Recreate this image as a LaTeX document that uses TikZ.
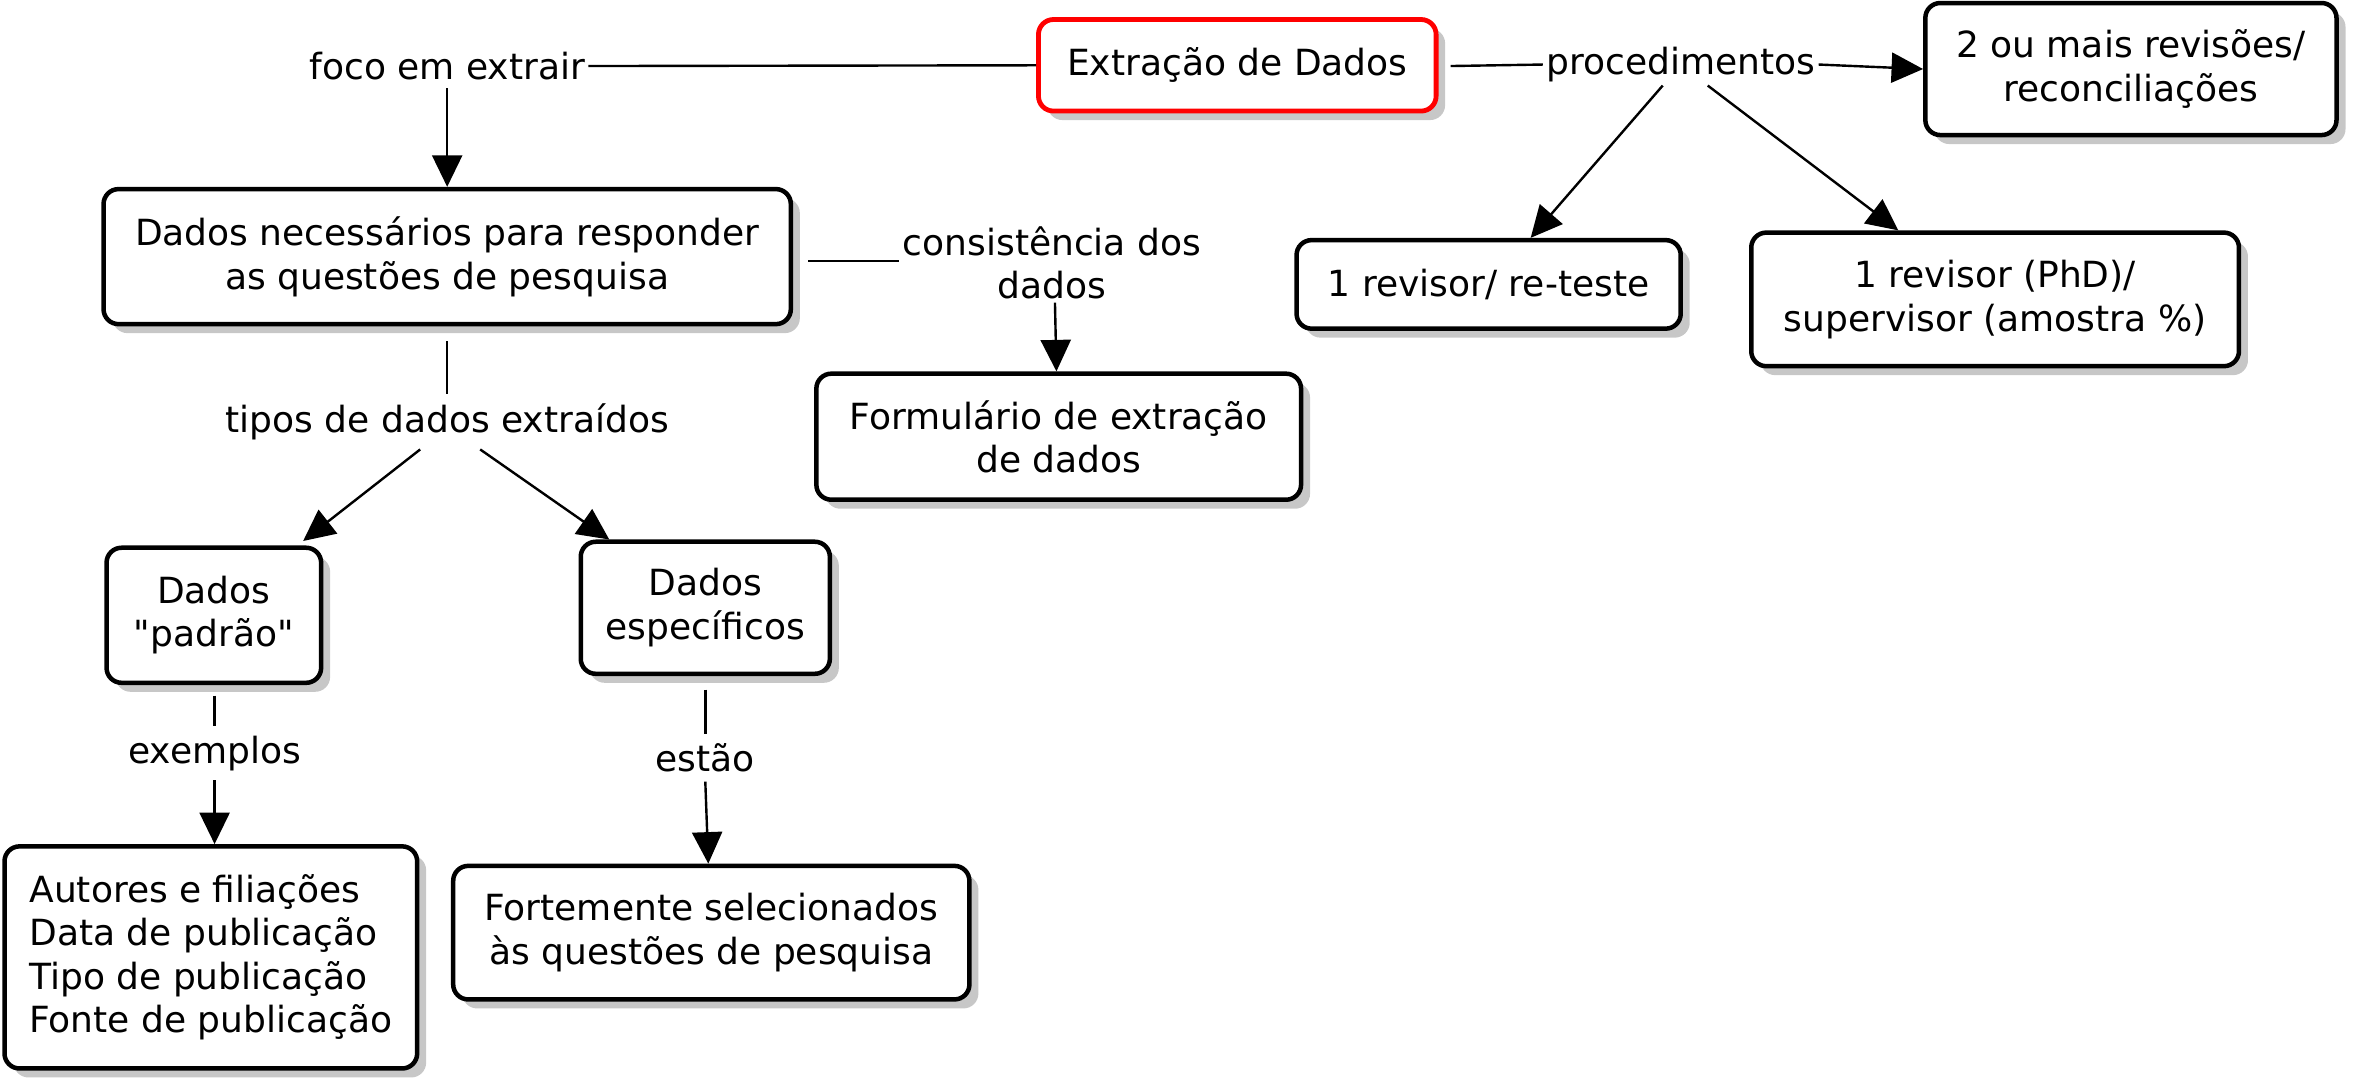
\documentclass[tikz,border=0pt]{standalone}
\usepackage{fontspec}
\setmainfont{DejaVu Sans}[Ligatures=TeXOff]
\usetikzlibrary{arrows.meta,shadows,calc}
\tikzset{
  box/.style={draw, line width=1.5pt, rounded corners=5pt, fill=white, align=center,
    inner sep=2pt, font=\fontsize{12}{14.5}\selectfont,
    drop shadow={shadow xshift=3pt, shadow yshift=-3pt, fill=black!22, opacity=1}},
  lbl/.style={align=center, inner sep=3pt, font=\fontsize{12}{14.5}\selectfont},
  conn/.style={line width=0.8pt},
  arr/.style={line width=0.8pt, -{Triangle[length=10.5pt,width=10pt]}}
}
\begin{document}
\begin{tikzpicture}[x=0.5pt, y=-0.5pt]
\useasboundingbox (0,0) rectangle (1568,724);
% boxes
\node[box, draw=red, line width=1.6pt, minimum width=265*0.5pt, minimum height=61*0.5pt] (ext) at (824.5,43.5) {Extração de Dados};
\node[box, minimum width=458*0.5pt, minimum height=90*0.5pt] (dn) at (298,171) {Dados necessários para responder\\as questões de pesquisa};
\node[box, minimum width=323*0.5pt, minimum height=84*0.5pt] (form) at (705.5,291) {Formulário de extração\\de dados};
\node[box, minimum width=143*0.5pt, minimum height=90*0.5pt] (pad) at (142.5,410) {Dados\\"padrão"};
\node[box, minimum width=166*0.5pt, minimum height=88*0.5pt] (esp) at (470,405) {Dados\\específicos};
\node[box, align=left, minimum width=275*0.5pt, minimum height=148*0.5pt] (aut) at (140.5,638) {Autores e filiações\\Data de publicação\\Tipo de publicação\\Fonte de publicação};
\node[box, minimum width=344*0.5pt, minimum height=89*0.5pt] (fort) at (474,621.5) {Fortemente selecionados\\às questões de pesquisa};
\node[box, minimum width=274*0.5pt, minimum height=88*0.5pt] (rev2) at (1420,46) {2 ou mais revisões/\\reconciliações};
\node[box, minimum width=256*0.5pt, minimum height=59*0.5pt] (rev1) at (992,189.5) {1 revisor/ re-teste};
\node[box, minimum width=325*0.5pt, minimum height=89*0.5pt] (phd) at (1329.5,199.5) {1 revisor (PhD)/\\supervisor (amostra \%)};
% labels
\node[lbl, inner sep=1pt] (foco) at (298,44) {foco em extrair};
\node[lbl, inner sep=1pt] (cons) at (701,175) {consistência dos\\dados};
\node[lbl] (tipos) at (298,281) {tipos de dados extraídos};
\node[lbl] (exem) at (143,502) {exemplos};
\node[lbl] (estao) at (470,505) {estão};
\node[lbl, inner sep=1pt] (proc) at (1120,43) {procedimentos};
% connectors
\draw[conn] (foco.east) -- (ext.west);
\draw[arr] ($(foco.south)+(0,3)$) -- (dn.north);
\draw[conn] ($(dn.east)+(10,3)$) -- (cons.west |- {$(dn.east)+(10,3)$});
\draw[arr] ($(cons.south)+(2,0)$) -- ($(form.north)+(-1.5,0)$);
\draw[conn] ($(dn.south)+(0,10)$) -- (tipos.north);
\draw[arr] ($(tipos.south)+(-18,0)$) -- ($(pad.north)+(59.5,-3)$);
\draw[arr] ($(tipos.south)+(22,0)$) -- ($(esp.north)+(-64,0)$);
\draw[conn] ($(pad.south)+(0.5,7)$) -- (exem.north);
\draw[arr] (exem.south) -- ($(aut.north)+(2.5,0)$);
\draw[conn] ($(esp.south)+(0,9)$) -- (estao.north);
\draw[arr] (estao.south) -- ($(fort.north)+(-2,0)$);
\draw[conn] ($(ext.east)+(8,0.5)$) -- (proc.west);
\draw[arr] (proc.east) -- (rev2.west);
\draw[arr] ($(proc.south)+(-12,0)$) -- ($(rev1.north)+(28,0)$);
\draw[arr] ($(proc.south)+(18,0)$) -- ($(phd.north)+(-64.5,0)$);
\end{tikzpicture}
\end{document}
